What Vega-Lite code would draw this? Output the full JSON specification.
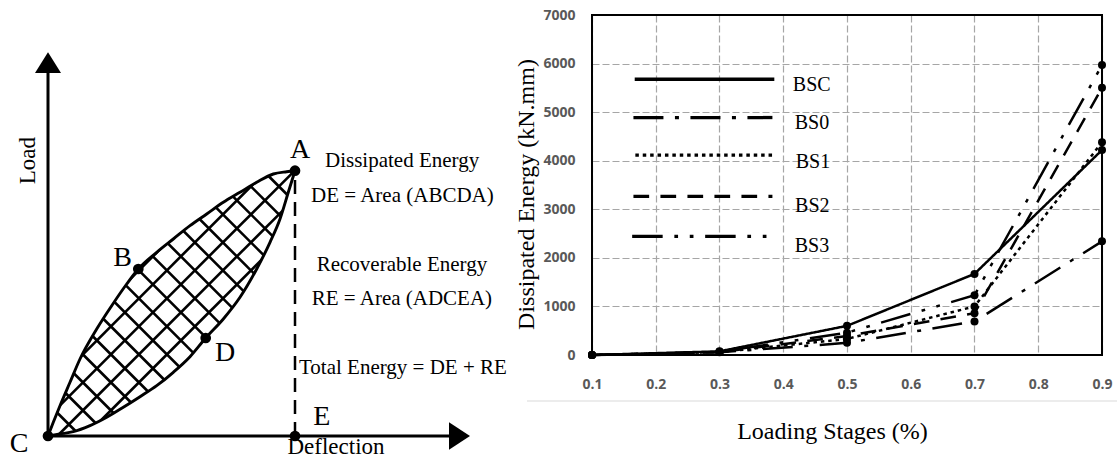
{
  "$schema": "https://vega.github.io/schema/vega-lite/v6.json",
  "padding": {"left": 0, "top": 8, "right": 0, "bottom": 0},
  "background": "white",
  "spacing": 87,
  "bounds": "flush",
  "config": {"view": {"stroke": null}},
  "datasets": {
    "hatch": [
      {"x": 0, "y": 4.5, "x2": 4.5, "y2": 0},
      {"x": 0, "y": 32.5, "x2": 32.5, "y2": 0},
      {"x": 0, "y": 60.5, "x2": 60.5, "y2": 0},
      {"x": 0, "y": 88.5, "x2": 88.5, "y2": 0},
      {"x": 0, "y": 116.5, "x2": 116.5, "y2": 0},
      {"x": 0, "y": 144.5, "x2": 144.5, "y2": 0},
      {"x": 0, "y": 172.5, "x2": 172.5, "y2": 0},
      {"x": 0, "y": 200.5, "x2": 200.5, "y2": 0},
      {"x": 0, "y": 228.5, "x2": 228.5, "y2": 0},
      {"x": 0, "y": 256.5, "x2": 245, "y2": 11.5},
      {"x": 18.5, "y": 266, "x2": 245, "y2": 39.5},
      {"x": 46.5, "y": 266, "x2": 245, "y2": 67.5},
      {"x": 74.5, "y": 266, "x2": 245, "y2": 95.5},
      {"x": 102.5, "y": 266, "x2": 245, "y2": 123.5},
      {"x": 130.5, "y": 266, "x2": 245, "y2": 151.5},
      {"x": 158.5, "y": 266, "x2": 245, "y2": 179.5},
      {"x": 186.5, "y": 266, "x2": 245, "y2": 207.5},
      {"x": 214.5, "y": 266, "x2": 245, "y2": 235.5},
      {"x": 242.5, "y": 266, "x2": 245, "y2": 263.5},
      {"x": 0, "y": 74.7, "x2": 191.3, "y2": 266},
      {"x": 0, "y": 46.7, "x2": 219.3, "y2": 266},
      {"x": 0, "y": 18.7, "x2": 245, "y2": 263.7},
      {"x": 9.3, "y": 0, "x2": 245, "y2": 235.7},
      {"x": 37.3, "y": 0, "x2": 245, "y2": 207.7}
    ],
    "upper": [
      {"x": 0, "y": 0}, {"x": 5.3, "y": 13.7}, {"x": 12, "y": 30.3}, {"x": 22, "y": 53.7},
      {"x": 32, "y": 77}, {"x": 48.7, "y": 107}, {"x": 63.7, "y": 130.3}, {"x": 78.7, "y": 152},
      {"x": 90.3, "y": 167}, {"x": 108.7, "y": 183.7}, {"x": 125.3, "y": 197}, {"x": 142, "y": 210.3},
      {"x": 158.7, "y": 222}, {"x": 175.3, "y": 233.7}, {"x": 192, "y": 243.7}, {"x": 208.7, "y": 253.7},
      {"x": 225.3, "y": 262}, {"x": 238.7, "y": 264.3}, {"x": 247, "y": 265.3}
    ],
    "lower": [
      {"x": 0, "y": 0}, {"x": 12, "y": 2}, {"x": 25.3, "y": 4.3}, {"x": 42, "y": 10.3},
      {"x": 58.7, "y": 18.7}, {"x": 75.3, "y": 28.7}, {"x": 92, "y": 39.3}, {"x": 108.7, "y": 50.3},
      {"x": 125.3, "y": 63.7}, {"x": 142, "y": 79.3}, {"x": 157.7, "y": 98}, {"x": 175.3, "y": 117},
      {"x": 192, "y": 138.7}, {"x": 208.7, "y": 167}, {"x": 222, "y": 193.7}, {"x": 232, "y": 217},
      {"x": 240.3, "y": 243.7}, {"x": 247, "y": 265.3}
    ],
    "axesLines": [
      {"x": 0, "y": 0, "x2": 0, "y2": 363},
      {"x": 0, "y": 0, "x2": 401, "y2": 0}
    ],
    "arrowUp": [{"x": -13, "y": 363}, {"x": 0, "y": 383.7}, {"x": 13, "y": 363}],
    "arrowRight": [{"x": 401, "y": -13.7}, {"x": 422, "y": 0}, {"x": 401, "y": 13.7}],
    "dashAE": [{"x": 247, "y": 0, "y2": 265.3}],
    "pts": [
      {"x": 247, "y": 265.3}, {"x": 90.3, "y": 167}, {"x": 0, "y": 0},
      {"x": 157.7, "y": 98}, {"x": 247, "y": 0}
    ],
    "letters": [
      {"x": 252, "y": 278, "text": "A"},
      {"x": 74.5, "y": 170, "text": "B"},
      {"x": -29, "y": -16, "text": "C"},
      {"x": 177, "y": 75.3, "text": "D"},
      {"x": 273.7, "y": 11.3, "text": "E"}
    ],
    "notes": [
      {"x": 277, "y": 268.7, "text": "Dissipated Energy"},
      {"x": 263, "y": 233.7, "text": "DE = Area (ABCDA)"},
      {"x": 268.7, "y": 165.3, "text": "Recoverable Energy"},
      {"x": 263.7, "y": 131, "text": "RE = Area (ADCEA)"},
      {"x": 251, "y": 62, "text": "Total Energy = DE + RE"}
    ],
    "deflection": [{"x": 288, "y": -17.5, "text": "Deflection"}],
    "load": [{"x": -13, "y": 275.3, "text": "Load"}],
    "series": [
      {"series": "BSC", "x": 0.1, "y": 0}, {"series": "BSC", "x": 0.3, "y": 75}, {"series": "BSC", "x": 0.5, "y": 600}, {"series": "BSC", "x": 0.7, "y": 1670}, {"series": "BSC", "x": 0.9, "y": 4220},
      {"series": "BS0", "x": 0.1, "y": 0}, {"series": "BS0", "x": 0.3, "y": 55}, {"series": "BS0", "x": 0.5, "y": 250}, {"series": "BS0", "x": 0.7, "y": 690}, {"series": "BS0", "x": 0.9, "y": 2340},
      {"series": "BS1", "x": 0.1, "y": 0}, {"series": "BS1", "x": 0.3, "y": 60}, {"series": "BS1", "x": 0.5, "y": 330}, {"series": "BS1", "x": 0.7, "y": 1000}, {"series": "BS1", "x": 0.9, "y": 4380},
      {"series": "BS2", "x": 0.1, "y": 0}, {"series": "BS2", "x": 0.3, "y": 60}, {"series": "BS2", "x": 0.5, "y": 390}, {"series": "BS2", "x": 0.7, "y": 860}, {"series": "BS2", "x": 0.9, "y": 5500},
      {"series": "BS3", "x": 0.1, "y": 0}, {"series": "BS3", "x": 0.3, "y": 65}, {"series": "BS3", "x": 0.5, "y": 460}, {"series": "BS3", "x": 0.7, "y": 1230}, {"series": "BS3", "x": 0.9, "y": 5970}
    ],
    "legendLines": [
      {"series": "BSC", "x": 0.167, "x2": 0.386, "y": 5677},
      {"series": "BS0", "x": 0.165, "x2": 0.383, "y": 4889},
      {"series": "BS1", "x": 0.168, "x2": 0.383, "y": 4114},
      {"series": "BS2", "x": 0.165, "x2": 0.383, "y": 3264},
      {"series": "BS3", "x": 0.163, "x2": 0.38, "y": 2441}
    ],
    "legendText": [
      {"series": "BSC", "x": 0.415, "y": 5556},
      {"series": "BS0", "x": 0.418, "y": 4774},
      {"series": "BS1", "x": 0.4195, "y": 3964},
      {"series": "BS2", "x": 0.4185, "y": 3060},
      {"series": "BS3", "x": 0.418, "y": 2236}
    ],
    "frameLine": [{"x": -0.002, "x2": 0.924, "y": -947}],
    "plotFrame": [{"x": 0.1, "x2": 0.9, "y": 0, "y2": 7000}]
  },
  "hconcat": [
    {
      "width": 505,
      "height": 442,
      "encoding": {
        "x": {"field": "x", "type": "quantitative", "scale": {"domain": [-48, 457], "nice": false, "zero": false}, "axis": null},
        "y": {"field": "y", "type": "quantitative", "scale": {"domain": [-21, 421], "nice": false, "zero": false}, "axis": null}
      },
      "layer": [
        {"data": {"name": "hatch"}, "mark": {"type": "rule", "color": "black", "strokeWidth": 2.6}, "encoding": {"x2": {"field": "x2"}, "y2": {"field": "y2"}}},
        {"data": {"name": "upper"}, "mark": {"type": "area", "color": "white", "opacity": 1, "orient": "vertical", "interpolate": "monotone"}, "encoding": {"y2": {"datum": 275}}},
        {"data": {"name": "lower"}, "mark": {"type": "area", "color": "white", "opacity": 1, "orient": "vertical", "interpolate": "monotone"}, "encoding": {"y2": {"datum": -5}}},
        {"data": {"name": "upper"}, "mark": {"type": "line", "color": "black", "strokeWidth": 2.9, "interpolate": "monotone"}, "encoding": {}},
        {"data": {"name": "lower"}, "mark": {"type": "line", "color": "black", "strokeWidth": 2.9, "interpolate": "monotone"}, "encoding": {}},
        {"data": {"name": "dashAE"}, "mark": {"type": "rule", "color": "black", "strokeWidth": 2.5, "strokeDash": [14, 8]}, "encoding": {"y2": {"field": "y2"}}},
        {"data": {"name": "axesLines"}, "mark": {"type": "rule", "color": "black", "strokeWidth": 3}, "encoding": {"x2": {"field": "x2"}, "y2": {"field": "y2"}}},
        {"data": {"name": "arrowUp"}, "mark": {"type": "area", "color": "black", "opacity": 1, "orient": "vertical"}, "encoding": {"y2": {"datum": 363}}},
        {"data": {"name": "arrowRight"}, "mark": {"type": "area", "color": "black", "opacity": 1, "orient": "horizontal"}, "encoding": {"x2": {"datum": 401}}},
        {"data": {"name": "pts"}, "mark": {"type": "circle", "color": "black", "opacity": 1, "size": 115}},
        {"data": {"name": "letters"}, "mark": {"type": "text", "font": "Liberation Serif", "fontSize": 28, "align": "center", "baseline": "alphabetic", "color": "black"}, "encoding": {"text": {"field": "text"}}},
        {"data": {"name": "notes"}, "mark": {"type": "text", "font": "Liberation Serif", "fontSize": 21, "align": "left", "baseline": "alphabetic", "color": "black"}, "encoding": {"text": {"field": "text"}}},
        {"data": {"name": "deflection"}, "mark": {"type": "text", "font": "Liberation Serif", "fontSize": 23, "align": "center", "baseline": "alphabetic", "color": "black"}, "encoding": {"text": {"field": "text"}}},
        {"data": {"name": "load"}, "mark": {"type": "text", "font": "Liberation Serif", "fontSize": 23, "align": "center", "baseline": "alphabetic", "angle": 270, "color": "black"}, "encoding": {"text": {"field": "text"}}}
      ]
    },
    {
      "width": 510,
      "height": 340,
      "encoding": {
        "x": {
          "field": "x", "type": "quantitative",
          "scale": {"domain": [0.1, 0.9], "nice": false, "zero": false},
          "axis": {
            "title": "Loading Stages (%)",
            "values": [0.1, 0.2, 0.3, 0.4, 0.5, 0.6, 0.7, 0.8, 0.9],
            "format": ".1f",
            "grid": true, "gridDash": [7, 3], "gridColor": "#a6a6a6", "gridWidth": 1.2,
            "ticks": false, "domain": false, "labelFlush": false, "labelOverlap": false,
            "labelFont": "Open Sans", "labelFontWeight": "bold", "labelFontSize": 14, "labelColor": "#595959", "labelPadding": 22,
            "titleFont": "Liberation Serif", "titleFontSize": 24, "titleFontWeight": "normal", "titleColor": "black",
            "titleX": 240, "titleY": 83, "titleBaseline": "alphabetic"
          }
        },
        "y": {
          "field": "y", "type": "quantitative",
          "scale": {"domain": [0, 7000], "nice": false},
          "axis": {
            "title": "Dissipated Energy (kN.mm)",
            "values": [0, 1000, 2000, 3000, 4000, 5000, 6000, 7000],
            "format": "d",
            "grid": true, "gridDash": [7, 3], "gridColor": "#a6a6a6", "gridWidth": 1.2,
            "ticks": false, "domain": false, "labelFlush": false, "labelOverlap": false,
            "labelFont": "Open Sans", "labelFontWeight": "bold", "labelFontSize": 14, "labelColor": "#595959", "labelPadding": 17,
            "titleFont": "Liberation Serif", "titleFontSize": 24, "titleFontWeight": "normal", "titleColor": "black",
            "titleX": -59, "titleY": 179, "titleBaseline": "alphabetic", "titleAngle": 270
          }
        }
      },
      "layer": [
        {"data": {"name": "frameLine"}, "mark": {"type": "rule", "color": "#d9d9d9", "strokeWidth": 1.2}, "encoding": {"x2": {"field": "x2"}}},
        {"data": {"name": "plotFrame"}, "mark": {"type": "rect", "fill": null, "fillOpacity": 0, "stroke": "black", "strokeWidth": 2}, "encoding": {"x2": {"field": "x2"}, "y2": {"field": "y2"}}},
        {
          "data": {"name": "series"},
          "mark": {"type": "line", "color": "black", "strokeWidth": 2.5},
          "encoding": {
            "detail": {"field": "series"},
            "strokeDash": {"field": "series", "type": "nominal", "scale": {"domain": ["BSC", "BS0", "BS1", "BS2", "BS3"], "range": [[1, 0], [30, 11.5, 4, 11.5], [3.5, 3.9], [15.7, 11.3], [30.5, 11.7, 3.7, 11.7, 3.7, 11.7]]}, "legend": null}
          }
        },
        {"data": {"name": "series"}, "mark": {"type": "circle", "color": "black", "opacity": 1, "size": 64}},
        {
          "data": {"name": "legendLines"},
          "mark": {"type": "rule", "color": "black", "strokeWidth": 3.3},
          "encoding": {
            "x2": {"field": "x2"},
            "strokeDash": {"field": "series", "type": "nominal", "scale": {"domain": ["BSC", "BS0", "BS1", "BS2", "BS3"], "range": [[1, 0], [30, 11.5, 4, 11.5], [3.5, 3.9], [15.7, 11.3], [30.5, 11.7, 3.7, 11.7, 3.7, 11.7]]}, "legend": null}
          }
        },
        {"data": {"name": "legendText"}, "mark": {"type": "text", "font": "Liberation Serif", "fontSize": 20, "align": "left", "baseline": "middle", "color": "black"}, "encoding": {"text": {"field": "series"}}}
      ]
    }
  ]
}
